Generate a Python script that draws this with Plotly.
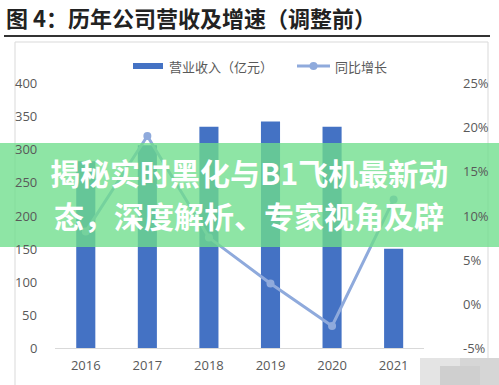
import plotly.graph_objects as go
from plotly.subplots import make_subplots

years = ["2016", "2017", "2018", "2019", "2020", "2021"]
revenue = [282, 306, 334, 342, 334, 150]
growth = [8.2, 19.0, 7.5, 2.3, -2.5, 11.8]
left_ticks = [0, 50, 100, 150, 200, 250, 300, 350, 400]
right_ticks = [-5, 0, 5, 10, 15, 20, 25]
right_labels = ["-5%", "0%", "5%", "10%", "15%", "20%", "25%"]
series_names = ["营业收入（亿元）", "同比增长"]

title_text = "图 4：历年公司营收及增速（调整前）"
banner_lines = ["揭秘实时黑化与B1飞机最新动", "态，深度解析、专家视角及辟"]

W, H = 499, 385
L, R, T, B = 55, 51, 83, 37
PW, PH = W - L - R, H - T - B

BAR_C = "#4472c4"
LINE_C = "#8faadc"
TICK_C = "#595959"


def px(x):
    return (x - L) / PW


def py(y):
    return (H - B - y) / PH


fig = make_subplots(specs=[[{"secondary_y": True}]])
fig.add_trace(go.Bar(x=years, y=revenue, name=series_names[0],
                     marker=dict(color=BAR_C, line=dict(width=0)),
                     width=0.31, showlegend=False), secondary_y=False)
fig.add_trace(go.Scatter(x=years, y=growth, name=series_names[1], mode="lines+markers",
                         line=dict(color=LINE_C, width=3),
                         marker=dict(color=LINE_C, size=8), showlegend=False), secondary_y=True)

font = "Open Sans, Noto Sans CJK SC, sans-serif"
fig.update_layout(
    width=W, height=H, margin=dict(l=L, r=R, t=T, b=B),
    paper_bgcolor="white", plot_bgcolor="white",
    font=dict(family=font, color=TICK_C, size=12),
    showlegend=False,
)
fig.update_xaxes(showgrid=False, showline=True, linecolor="#d9d9d9", linewidth=1,
                 ticks="outside", ticklen=5, tickcolor="rgba(0,0,0,0)",
                 tickfont=dict(size=13, color=TICK_C))
fig.update_yaxes(range=[0, 400], tickvals=left_ticks, showgrid=False, zeroline=False,
                 showline=False, showticklabels=False, secondary_y=False)
fig.update_yaxes(range=[-5, 25], tickvals=right_ticks, showgrid=False,
                 zeroline=False, showline=False, showticklabels=False, secondary_y=True)

shapes = []
# frame box
shapes.append(dict(type="rect", xref="paper", yref="paper", x0=px(15), x1=px(488),
                   y0=py(395), y1=py(42), line=dict(color="#d9d9d9", width=1), layer="below"))
# title underline
shapes.append(dict(type="line", xref="paper", yref="paper", x0=px(4), x1=px(490),
                   y0=py(36), y1=py(36), line=dict(color="#333333", width=2)))
# legend swatches
shapes.append(dict(type="rect", xref="paper", yref="paper", x0=px(133), x1=px(163),
                   y0=py(69), y1=py(63), fillcolor=BAR_C, line=dict(width=0)))
shapes.append(dict(type="line", xref="paper", yref="paper", x0=px(297), x1=px(330),
                   y0=py(66), y1=py(66), line=dict(color=LINE_C, width=3)))
shapes.append(dict(type="circle", xref="paper", yref="paper", x0=px(309.5), x1=px(317.5),
                   y0=py(70), y1=py(62), fillcolor=LINE_C, line=dict(width=0)))
# banner
shapes.append(dict(type="rect", xref="paper", yref="paper", x0=px(0), x1=px(499),
                   y0=py(247), y1=py(143), fillcolor="rgba(110,222,140,0.78)",
                   line=dict(width=0), layer="above"))
# mosaic patch
for (x0, x1, y0, y1, c) in [(420, 460, 358, 386, "#e4e4e4"), (460, 499, 358, 386, "#d6d6d6"),
                            (440, 480, 366, 386, "#cfcfcf")]:
    shapes.append(dict(type="rect", xref="paper", yref="paper", x0=px(x0), x1=px(x1),
                       y0=py(y1), y1=py(y0), fillcolor=c, line=dict(width=0), layer="above"))
fig.update_layout(shapes=shapes)

annotations = []
# left tick labels (y axis)
for v in left_ticks:
    annotations.append(dict(text=str(v), xref="paper", yref="y", x=px(39), y=v,
                            xanchor="right", yanchor="middle", showarrow=False,
                            font=dict(family=font, size=13, color=TICK_C)))
# right tick labels (y2 axis)
for v, t in zip(right_ticks, right_labels):
    annotations.append(dict(text=t, xref="paper", yref="y2", x=px(461), y=v,
                            xanchor="left", yanchor="middle", showarrow=False,
                            font=dict(family=font, size=13, color=TICK_C)))

annotations += [
    dict(text=title_text, xref="paper", yref="paper", x=px(4), y=py(17), xanchor="left",
         yanchor="middle", showarrow=False,
         font=dict(family="Noto Sans CJK SC", size=22, color="#222222", weight="bold")),
    dict(text=series_names[0], xref="paper", yref="paper", x=px(167), y=py(66),
         xanchor="left", yanchor="middle", showarrow=False,
         font=dict(family="Noto Sans CJK SC", size=13, color=TICK_C)),
    dict(text=series_names[1], xref="paper", yref="paper", x=px(333), y=py(66),
         xanchor="left", yanchor="middle", showarrow=False,
         font=dict(family="Noto Sans CJK SC", size=13, color=TICK_C)),
    dict(text=banner_lines[0], xref="paper", yref="paper", x=px(249), y=py(172),
         xanchor="center", yanchor="middle", showarrow=False,
         font=dict(family="Noto Sans CJK SC", size=30, color="white", weight="bold")),
    dict(text=banner_lines[1], xref="paper", yref="paper", x=px(249), y=py(215),
         xanchor="center", yanchor="middle", showarrow=False,
         font=dict(family="Noto Sans CJK SC", size=30, color="white", weight="bold")),
]
fig.update_layout(annotations=annotations)

fig.write_html("out.html", config={"displayModeBar": False},
               post_script="document.body.style.margin='0';")
